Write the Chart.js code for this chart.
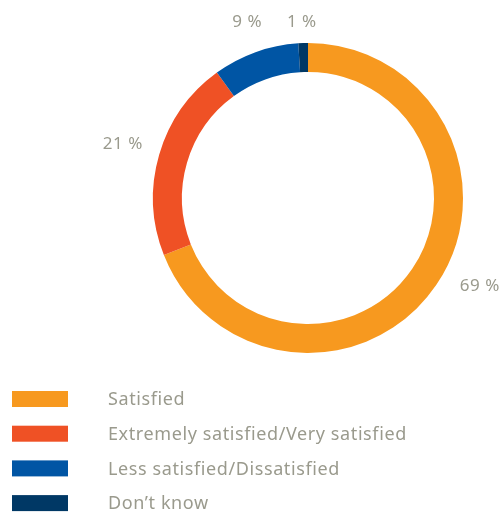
<!DOCTYPE html>
<html>
<head>
<meta charset="utf-8">
<script src="https://cdn.jsdelivr.net/npm/chart.js@4"></script>
<style>
html,body{margin:0;padding:0;background:#fff;}
#wrap{position:relative;width:504px;height:513px;}
</style>
</head>
<body>
<div id="wrap"><canvas id="c" width="504" height="513"></canvas></div>
<script>
const categories = ["Satisfied", "Extremely satisfied/Very satisfied", "Less satisfied/Dissatisfied", "Don\u2019t know"];
const values = [69, 21, 9, 1];
const valueLabels = ["69 %", "21 %", "9 %", "1 %"];
const colors = ["#F7991F", "#EF5125", "#0055A4", "#003865"];

const TEXT = "#9a9a8d";
const FONT = "'Noto Sans', 'Open Sans', sans-serif";

// label placement: angle (deg, clockwise from top) and distance from centre
const labelPlacement = [
  {a: 117.1, r: 193},
  {a: 286.3, r: 193},
  {a: 340.9, r: 186},
  {a: 358.0, r: 176}
];

const valueLabelPlugin = {
  id: 'valueLabels',
  afterDatasetsDraw(chart) {
    const ctx = chart.ctx;
    const meta = chart.getDatasetMeta(0);
    const arc0 = meta.data[0];
    const cx = arc0.x, cy = arc0.y;
    ctx.save();
    ctx.fillStyle = TEXT;
    ctx.font = "17px " + FONT;
    if ('letterSpacing' in ctx) ctx.letterSpacing = '0.5px';
    ctx.textAlign = 'center';
    ctx.textBaseline = 'middle';
    valueLabels.forEach((t, i) => {
      const p = labelPlacement[i];
      const rad = p.a * Math.PI / 180;
      ctx.fillText(t, cx + Math.sin(rad) * p.r, cy - Math.cos(rad) * p.r);
    });
    ctx.restore();
  }
};

const legendPlugin = {
  id: 'customLegend',
  afterDraw(chart) {
    const ctx = chart.ctx;
    ctx.save();
    ctx.font = "18px " + FONT;
    if ('letterSpacing' in ctx) ctx.letterSpacing = '0.6px';
    ctx.textBaseline = 'middle';
    ctx.textAlign = 'left';
    chart.data.labels.forEach((lab, i) => {
      const y = 391 + i * 34.7;
      ctx.fillStyle = chart.data.datasets[0].backgroundColor[i];
      ctx.fillRect(12, y, 56, 16);
      ctx.fillStyle = TEXT;
      ctx.fillText(lab, 108, y + 9);
    });
    ctx.restore();
  }
};

new Chart(document.getElementById('c'), {
  type: 'doughnut',
  data: {
    labels: categories,
    datasets: [{
      data: values,
      backgroundColor: colors,
      borderWidth: 0,
      hoverOffset: 0
    }]
  },
  options: {
    responsive: false,
    animation: false,
    cutout: '81.3%',
    rotation: 0,
    layout: { padding: { left: 153, right: 41, top: 43, bottom: 160 } },
    plugins: {
      legend: { display: false },
      tooltip: { enabled: false }
    }
  },
  plugins: [valueLabelPlugin, legendPlugin]
});
</script>
</body>
</html>
